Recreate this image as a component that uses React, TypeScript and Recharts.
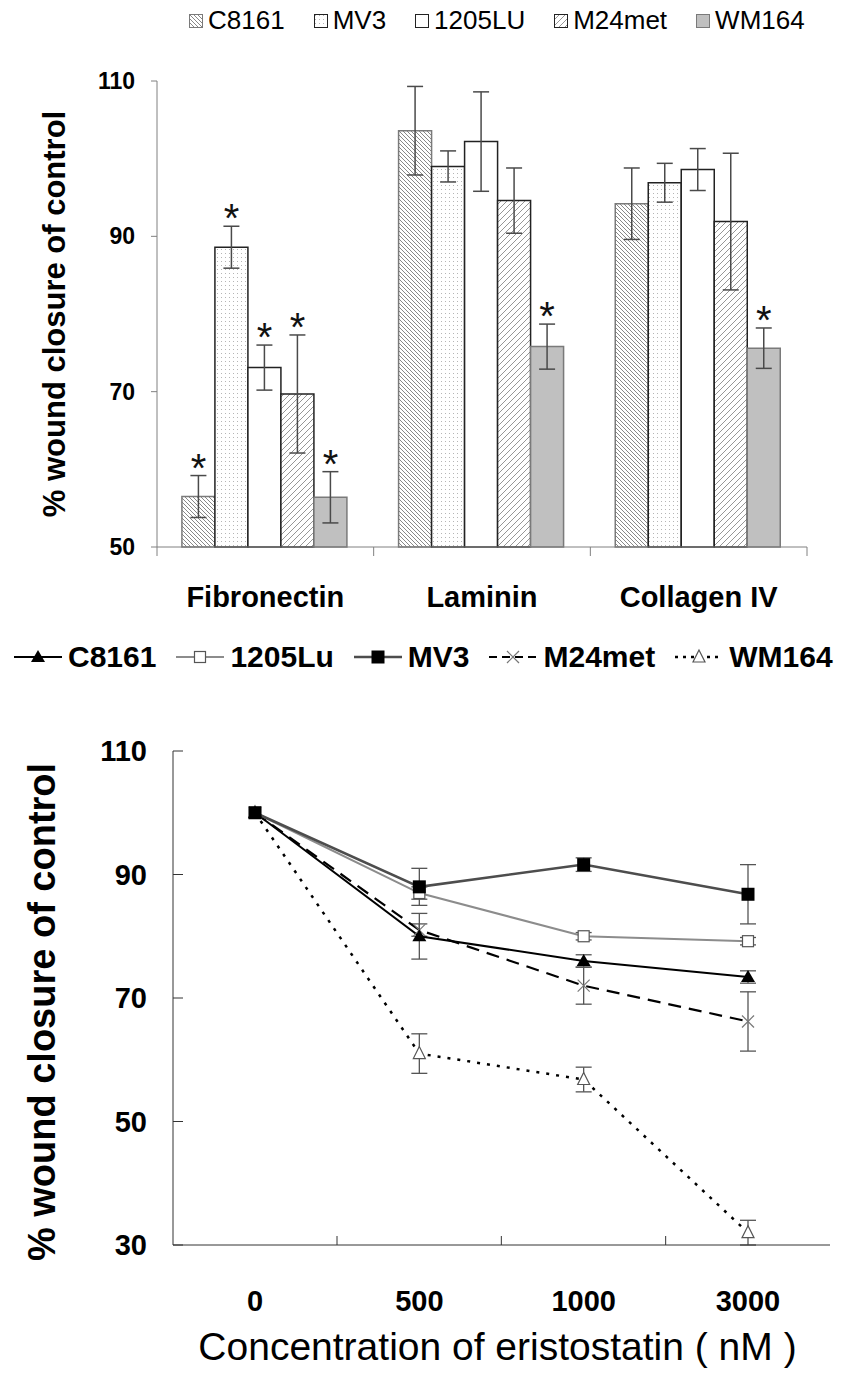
import React from 'react';
import {
  BarChart, Bar, LineChart, Line, XAxis, YAxis, ErrorBar, LabelList, Legend, Label,
} from 'recharts';

// top panel: wound closure on different matrices
const substrates = ['Fibronectin', 'Laminin', 'Collagen IV'];
const c8161Bar = [56.5, 103.6, 94.2];
const c8161BarErr = [2.7, 5.7, 4.6];
const c8161Sig = [true, false, false];
const mv3Bar = [88.6, 99.0, 96.9];
const mv3BarErr = [2.7, 2.0, 2.5];
const mv3Sig = [true, false, false];
const lu1205Bar = [73.1, 102.2, 98.6];
const lu1205BarErr = [2.9, 6.4, 2.7];
const lu1205Sig = [true, false, false];
const m24Bar = [69.7, 94.6, 91.9];
const m24BarErr = [7.6, 4.2, 8.8];
const m24Sig = [true, false, false];
const wm164Bar = [56.4, 75.8, 75.6];
const wm164BarErr = [3.3, 2.9, 2.6];
const wm164Sig = [true, true, true];
const barTicks = [50, 70, 90, 110];

// bottom panel: dose response to eristostatin
const doses = ['0', '500', '1000', '3000'];
const c8161Line = [100, 80.0, 76.0, 73.4];
const c8161LineErr = [0, 3.7, 1.0, 1.0];
const lu1205Line = [100, 87.0, 80.0, 79.2];
const lu1205LineErr = [0, 1.0, 0.6, 0.6];
const mv3Line = [100, 88.0, 91.6, 86.8];
const mv3LineErr = [0, 3.0, 1.1, 4.8];
const m24Line = [100, 81.0, 72.0, 66.2];
const m24LineErr = [0, 1.0, 3.0, 4.8];
const wm164Line = [100, 61.0, 56.8, 32.0];
const wm164LineErr = [0, 3.2, 2.0, 2.0];
const lineTicks = [30, 50, 70, 90, 110];

const FONT = '"Liberation Sans", Arial, sans-serif';

const barSeries = [
  { key: 'C8161', vals: c8161Bar, err: c8161BarErr, sig: c8161Sig, fill: 'url(#patC8161)', stroke: '#7a7a7a' },
  { key: 'MV3', vals: mv3Bar, err: mv3BarErr, sig: mv3Sig, fill: 'url(#patMV3)', stroke: '#222' },
  { key: '1205LU', vals: lu1205Bar, err: lu1205BarErr, sig: lu1205Sig, fill: '#fff', stroke: '#222' },
  { key: 'M24met', vals: m24Bar, err: m24BarErr, sig: m24Sig, fill: 'url(#patM24)', stroke: '#222' },
  { key: 'WM164', vals: wm164Bar, err: wm164BarErr, sig: wm164Sig, fill: '#c0c0c0', stroke: '#7a7a7a' },
];

const barData = substrates.map((s, i) => {
  const row: Record<string, any> = { substrate: s };
  barSeries.forEach(b => {
    row[b.key] = b.vals[i];
    row[b.key + '_err'] = b.err[i];
  });
  return row;
});

// legend order
const lineSeries = [
  { key: 'C8161', vals: c8161Line, err: c8161LineErr, stroke: '#000', width: 2, dash: undefined, marker: 'triFilled' },
  { key: '1205Lu', vals: lu1205Line, err: lu1205LineErr, stroke: '#8c8c8c', width: 2, dash: undefined, marker: 'sqOpen' },
  { key: 'MV3', vals: mv3Line, err: mv3LineErr, stroke: '#4d4d4d', width: 2.5, dash: undefined, marker: 'sqFilled' },
  { key: 'M24met', vals: m24Line, err: m24LineErr, stroke: '#000', width: 2.2, dash: '13 8', marker: 'cross' },
  { key: 'WM164', vals: wm164Line, err: wm164LineErr, stroke: '#000', width: 2.5, dash: '3 7', marker: 'triOpen' },
];
// drawing order (MV3 ends up on top, as in the figure)
const drawOrder = ['WM164', 'M24met', '1205Lu', 'C8161', 'MV3'];

const lineData = doses.map((d, i) => {
  const row: Record<string, any> = { dose: d };
  lineSeries.forEach(s => {
    row[s.key] = s.vals[i];
    row[s.key + '_err'] = s.err[i];
  });
  return row;
});

function Marker({ kind, cx, cy }: { kind: string; cx: number; cy: number }) {
  if (kind === 'triFilled') return <path d={`M${cx},${cy - 7} L${cx - 7},${cy + 5} L${cx + 7},${cy + 5} Z`} fill="#000" />;
  if (kind === 'triOpen') return <path d={`M${cx},${cy - 7} L${cx - 6},${cy + 5} L${cx + 6},${cy + 5} Z`} fill="#fff" stroke="#555" strokeWidth={1.2} />;
  if (kind === 'sqFilled') return <rect x={cx - 6.5} y={cy - 6.5} width={13} height={13} fill="#000" />;
  if (kind === 'sqOpen') return <rect x={cx - 5.5} y={cy - 5.5} width={11} height={11} fill="#fff" stroke="#555" strokeWidth={1.2} />;
  return (
    <g stroke="#777" strokeWidth={1.2}>
      <line x1={cx - 6} y1={cy - 6} x2={cx + 6} y2={cy + 6} />
      <line x1={cx - 6} y1={cy + 6} x2={cx + 6} y2={cy - 6} />
    </g>
  );
}

function starLabel(vals: number[], err: number[], sig: boolean[]) {
  return (props: any) => {
    const vb = props.viewBox ?? props;
    const i = props.index;
    if (!sig[i]) return null;
    const ppu = vb.height / (vals[i] - barTicks[0]);
    const top = vb.y - err[i] * ppu;
    return (
      <text x={vb.x + vb.width / 2} y={top + 6} textAnchor="middle" fontSize={40} fontFamily={FONT} fill="#111">*</text>
    );
  };
}

function BarLegend() {
  return (
    <div style={{ height: 76, position: 'relative', fontFamily: FONT, fontSize: 26, color: '#000' }}>
      <div style={{ position: 'absolute', left: 189, top: 0, display: 'flex', alignItems: 'center', whiteSpace: 'nowrap', lineHeight: '31px' }}>
        {barSeries.map(b => (
          <span key={b.key} style={{ display: 'inline-flex', alignItems: 'center', marginRight: 29 }}>
            <svg width={14} height={14} style={{ display: 'block' }}>
              <rect x={0.5} y={0.5} width={13} height={13} fill={b.fill} stroke={b.stroke} />
            </svg>
            <span style={{ marginLeft: 5 }}>{b.key}</span>
          </span>
        ))}
      </div>
    </div>
  );
}

function LineLegend() {
  return (
    <div style={{ height: 116, position: 'relative', fontFamily: FONT, fontSize: 30, fontWeight: 700, color: '#000' }}>
      <div style={{ position: 'absolute', left: 14, top: 4, display: 'flex', alignItems: 'center', whiteSpace: 'nowrap', lineHeight: '35px' }}>
        {lineSeries.map(s => (
          <span key={s.key} style={{ display: 'inline-flex', alignItems: 'center', marginRight: 20 }}>
            <svg width={48} height={20} style={{ display: 'block' }}>
              <line x1={0} y1={10} x2={48} y2={10} stroke={s.stroke} strokeWidth={s.width} strokeDasharray={s.dash ? (s.dash === '3 7' ? '3 5' : '8 5') : undefined} />
              <Marker kind={s.marker} cx={24} cy={10} />
            </svg>
            <span style={{ marginLeft: 6 }}>{s.key}</span>
          </span>
        ))}
      </div>
    </div>
  );
}

function YTitle({ viewBox, text, cx, size, shift }: any) {
  const cy = viewBox.y + viewBox.height / 2 + shift;
  return (
    <text x={cx} y={cy} transform={`rotate(-90 ${cx} ${cy})`} textAnchor="middle" dominantBaseline="central"
      fontFamily={FONT} fontSize={size} fontWeight={700} fill="#000">{text}</text>
  );
}

const BAR_HALF_BAND = (807 - 157) / substrates.length / 2;
const LINE_HALF_STEP = 82;

function BarXTick({ x, y, payload, index }: any) {
  return (
    <g>
      <line x1={x - BAR_HALF_BAND} x2={x - BAR_HALF_BAND} y1={y} y2={y + 9} stroke="#808080" />
      {index === substrates.length - 1 && (
        <line x1={x + BAR_HALF_BAND} x2={x + BAR_HALF_BAND} y1={y} y2={y + 9} stroke="#808080" />
      )}
      <text x={x} y={y + 50} textAnchor="middle" dominantBaseline="central" fontFamily={FONT} fontSize={29} fontWeight={700} fill="#000">
        {payload.value}
      </text>
    </g>
  );
}

function LineXTick({ x, y, payload, index }: any) {
  return (
    <g>
      {index < doses.length - 1 && (
        <line x1={x + LINE_HALF_STEP} x2={x + LINE_HALF_STEP} y1={y} y2={y - 9} stroke="#333" />
      )}
      <text x={x} y={y + 56} textAnchor="middle" dominantBaseline="central" fontFamily={FONT} fontSize={29} fontWeight={700} fill="#000">
        {payload.value}
      </text>
    </g>
  );
}

function LineYTick({ x, y, payload }: any) {
  return (
    <g>
      <line x1={x + 26} x2={x + 36} y1={y} y2={y} stroke="#333" />
      <text x={x} y={y} textAnchor="end" dominantBaseline="central" fontFamily={FONT} fontSize={29} fontWeight={700} fill="#000">
        {payload.value}
      </text>
    </g>
  );
}

export default function App() {
  return (
    <div style={{ position: 'absolute', left: 0, top: 0, width: 847, height: 1389, background: '#fff' }}>
      <div style={{ position: 'absolute', left: 0, top: 0 }}>
        <BarChart width={847} height={620} data={barData} margin={{ top: 5, right: 40, left: 0, bottom: 0 }}
          barCategoryGap="11.5%" barGap={0}>
          <defs>
            <pattern id="patC8161" width={4} height={4} patternUnits="userSpaceOnUse">
              <rect width={4} height={4} fill="#fff" />
              <path d="M-1,-1 L5,5 M3,-1 L5,1 M-1,3 L1,5" stroke="#7a7a7a" strokeWidth={0.9} />
            </pattern>
            <pattern id="patMV3" width={4} height={4} patternUnits="userSpaceOnUse">
              <rect width={4} height={4} fill="#fff" />
              <rect x={1} y={1} width={1} height={1} fill="#b5b5b5" />
            </pattern>
            <pattern id="patM24" width={6} height={6} patternUnits="userSpaceOnUse">
              <rect width={6} height={6} fill="#fff" />
              <path d="M-1,7 L7,-1 M-1,1 L1,-1 M5,7 L7,5" stroke="#8a8a8a" strokeWidth={0.9} />
            </pattern>
          </defs>
          <Legend verticalAlign="top" content={<BarLegend />} wrapperStyle={{ left: 0, top: 5, width: 847, height: 76 }} />
          <XAxis dataKey="substrate" axisLine={{ stroke: '#808080' }} tickLine={false} tickSize={0} tickMargin={0}
            height={73} tick={<BarXTick />} interval={0} />
          <YAxis domain={[50, 110]} ticks={barTicks} width={157} axisLine={{ stroke: '#808080' }}
            tickLine={{ stroke: '#808080' }} tickSize={6} tickMargin={16}
            tick={{ fontFamily: FONT, fontSize: 23, fontWeight: 700, fill: '#000' }}>
            <Label content={(p: any) => <YTitle viewBox={p.viewBox} text="% wound closure of control" cx={54} size={31} shift={0} />} />
          </YAxis>
          {barSeries.map(b => (
            <Bar key={b.key} dataKey={b.key} fill={b.fill} stroke={b.stroke} strokeWidth={1.5} isAnimationActive={false}>
              <ErrorBar dataKey={b.key + '_err'} width={8} stroke="#4a4a4a" strokeWidth={1.5} />
              <LabelList content={starLabel(b.vals, b.err, b.sig)} />
            </Bar>
          ))}
        </BarChart>
      </div>
      <div style={{ position: 'absolute', left: 0, top: 620 }}>
        <LineChart width={847} height={769} data={lineData} margin={{ top: 15, right: 17, left: 0, bottom: 0 }}>
          <Legend verticalAlign="top" content={<LineLegend />} wrapperStyle={{ left: 0, top: 15, width: 847, height: 116 }} />
          <XAxis dataKey="dose" padding={{ left: LINE_HALF_STEP, right: LINE_HALF_STEP }} axisLine={{ stroke: '#333' }}
            tickLine={false} tickSize={0} tickMargin={0} height={144} tick={<LineXTick />} interval={0}>
            <Label content={(p: any) => (
              <text x={p.viewBox.x + p.viewBox.width / 2 - 4} y={p.viewBox.y + 101} textAnchor="middle" dominantBaseline="central"
                fontFamily={FONT} fontSize={39} fill="#000">Concentration of eristostatin ( nM )</text>
            )} />
          </XAxis>
          <YAxis domain={[30, 110]} ticks={lineTicks} width={173} axisLine={{ stroke: '#333' }} tickLine={false}
            tickSize={0} tickMargin={26} tick={<LineYTick />}>
            <Label content={(p: any) => <YTitle viewBox={p.viewBox} text="% wound closure of control" cx={42} size={38} shift={14} />} />
          </YAxis>
          {drawOrder.map(k => lineSeries.find(s => s.key === k)!).map(s => (
            <Line key={s.key} dataKey={s.key} stroke={s.stroke} strokeWidth={s.width} strokeDasharray={s.dash}
              isAnimationActive={false} activeDot={false}
              dot={(p: any) => <Marker key={s.key + p.index} kind={s.marker} cx={p.cx} cy={p.cy} />}>
              <ErrorBar dataKey={s.key + '_err'} width={8} stroke="#555" strokeWidth={1.3} />
            </Line>
          ))}
        </LineChart>
      </div>
    </div>
  );
}
